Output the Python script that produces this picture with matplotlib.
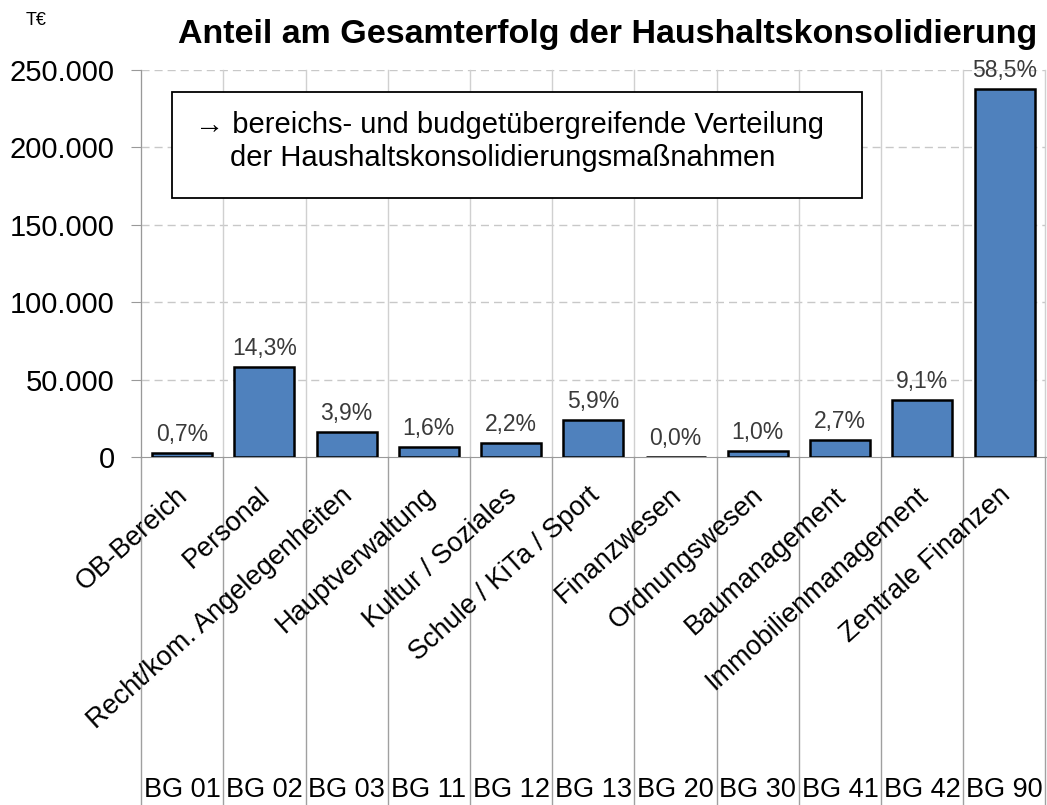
import matplotlib.pyplot as plt
from matplotlib.patches import Rectangle
from matplotlib.ticker import FuncFormatter

plt.rcParams['font.family'] = ['Liberation Sans', 'DejaVu Sans']

# Daten (T€)
codes = ["BG 01", "BG 02", "BG 03", "BG 11", "BG 12", "BG 13",
         "BG 20", "BG 30", "BG 41", "BG 42", "BG 90"]
bereiche = ["OB-Bereich", "Personal", "Recht/kom. Angelegenheiten",
            "Hauptverwaltung", "Kultur / Soziales", "Schule / KiTa / Sport",
            "Finanzwesen", "Ordnungswesen", "Baumanagement",
            "Immobilienmanagement", "Zentrale Finanzen"]
werte = [2800, 58100, 15900, 6500, 8900, 24000, 0, 4100, 11000, 37000, 237800]
anteile = ["0,7%", "14,3%", "3,9%", "1,6%", "2,2%", "5,9%",
           "0,0%", "1,0%", "2,7%", "9,1%", "58,5%"]

fig = plt.figure(figsize=(10.47, 8.05), dpi=100)
ax = fig.add_axes([0.1347, 0.4323, 0.864, 0.4807])

x = list(range(len(codes)))
ax.bar(x, werte, width=0.73, color="#4F81BD", edgecolor="black", linewidth=1.8, zorder=3)

ax.set_xlim(-0.5, len(codes) - 0.5)
ax.set_ylim(0, 250000)
ax.set_yticks(range(0, 250001, 50000))
ax.yaxis.set_major_formatter(FuncFormatter(lambda v, p: f"{int(v):,}".replace(",", ".")))
ax.tick_params(axis="y", labelsize=21, length=7, color="#999999", pad=12)
ax.set_xticks([])

# horizontale Gitterlinien
for v in range(50000, 250001, 50000):
    ax.axhline(v, color="#c8c8c8", linestyle=(0, (5.8, 3.6)), linewidth=1, zorder=1)

for s in ["top", "right"]:
    ax.spines[s].set_visible(False)
ax.spines["left"].set_color("#999999")
ax.spines["bottom"].set_color("#999999")

# senkrechte Trennlinien bis zum unteren Rand
trans = ax.get_xaxis_transform()
for i in range(len(codes) + 1):
    xi = min(i - 0.5, len(codes) - 0.51)
    ax.plot([xi, xi], [0, 1], transform=trans, color="#d0d0d0", linewidth=1, zorder=1,
            clip_on=False)
    ax.plot([xi, xi], [-0.92, 0], transform=trans, color="#a0a0a0", linewidth=1,
            clip_on=False)

# Prozentwerte über den Balken
for xi, w, a in zip(x, werte, anteile):
    ax.annotate(a, (xi, w), textcoords="offset points", xytext=(0, 5),
                ha="center", va="bottom", fontsize=16.5, color="#3a3a3a")

# Bereichsnamen schräg
for xi, b in zip(x, bereiche):
    ax.text(xi + 0.03, -0.09, b, transform=trans, rotation=42, rotation_mode="anchor",
            ha="right", va="center", fontsize=19.5)

# BG-Nummern unten
for xi, c in zip(x, codes):
    ax.text(xi, -0.893, c, transform=trans, ha="center", va="bottom", fontsize=19.5)

fig.text(0.58, 0.957, "Anteil am Gesamterfolg der Haushaltskonsolidierung",
         ha="center", va="center", fontsize=24.5, fontweight="bold")
fig.text(0.034, 0.975, "T€", ha="center", va="center", fontsize=13)

# Textkasten
fig.patches.append(Rectangle((0.1643, 0.754), 0.659, 0.1317, transform=fig.transFigure,
                             facecolor="white", edgecolor="black", linewidth=1.3, zorder=5))
fig.text(0.186, 0.845, "\u2192 bereichs- und budgetübergreifende Verteilung",
         ha="left", va="center", fontsize=21, zorder=6)
fig.text(0.2195, 0.804, "der Haushaltskonsolidierungsmaßnahmen",
         ha="left", va="center", fontsize=21, zorder=6)

fig.savefig("out.png", dpi=100)
